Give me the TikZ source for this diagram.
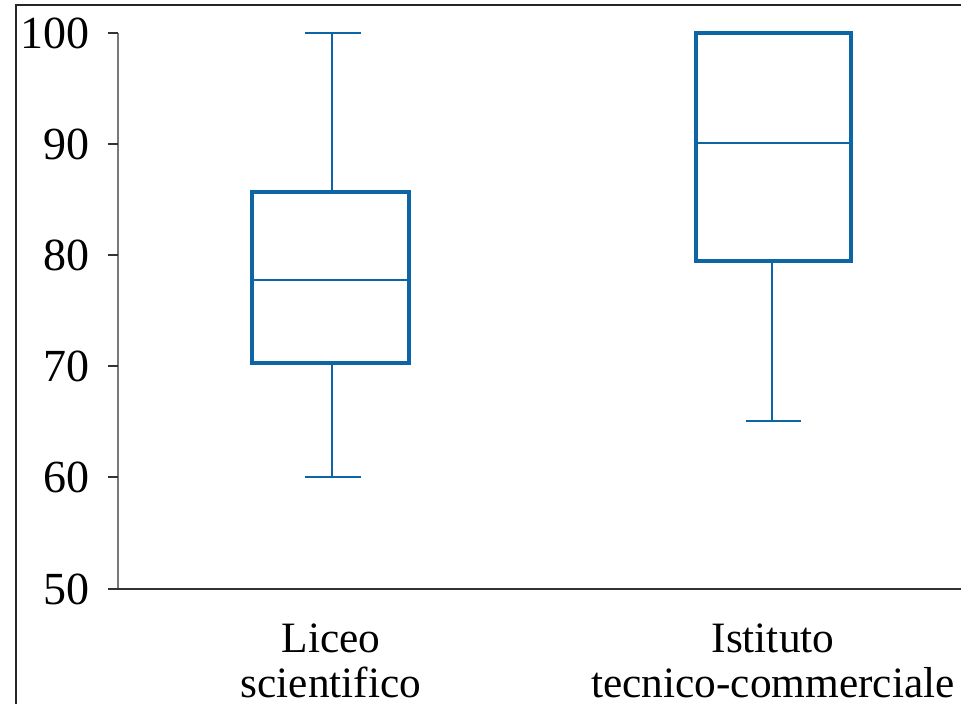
\documentclass[tikz,border=0pt]{standalone}
\usepackage{fontspec}
\setmainfont{Liberation Serif}
\definecolor{boxblue}{RGB}{14,101,166}
\definecolor{axisgray}{RGB}{120,120,120}
\begin{document}
\begin{tikzpicture}[x=0.75pt,y=-0.75pt]
  \tikzset{ticklabel/.style={anchor=east, inner sep=0pt, font=\fontsize{34.5}{40}\selectfont},
           catlabel/.style={align=center, inner sep=0pt, font=\fontsize{32.5}{33.5}\selectfont},
           boxline/.style={draw=boxblue, line width=2.4pt},
           whisker/.style={draw=boxblue, line width=2pt}}
  \useasboundingbox (0,0) rectangle (961,704);
  % frame
  \draw[line width=2pt, black!85] (16,704) -- (16,5) -- (961,5);
  % axes
  \coordinate (o) at (118,589);
  \coordinate (top) at (118,33);
  \coordinate (xend) at (961,589);
  \draw[axisgray, line width=1.3pt] (o) -- (top);
  \draw[black!80, line width=1.3pt] (108,589) -- (xend);
  \foreach \v/\y in {100/33,90/144,80/255,70/366,60/477,50/589}{
    \coordinate (t\v) at (118,\y);
    \draw[black!80, line width=1.3pt] (t\v) -- ++(-10,0);
    \node[ticklabel] (l\v) at (90,\y) {\v};
  }
  % Liceo scientifico
  \coordinate (ls_max) at (332,33);
  \coordinate (ls_min) at (332,477);
  \node[boxline, rectangle, minimum width=157*0.75pt, minimum height=171*0.75pt, inner sep=0pt] (ls_box) at (330.5,277.5) {};
  \draw[boxblue, line width=2.2pt] (ls_box.west |- 0,280) -- (ls_box.east |- 0,280);
  \draw[whisker] (ls_box.north -| ls_max) -- (ls_max);
  \draw[whisker] (ls_box.south -| ls_min) -- (ls_min);
  \draw[whisker, line width=2.2pt] ([xshift=-27*0.75pt]ls_max) -- ([xshift=29*0.75pt]ls_max);
  \draw[whisker, line width=2.2pt] ([xshift=-27*0.75pt]ls_min) -- ([xshift=29*0.75pt]ls_min);
  \node[catlabel] (ls_lab) at (331,661) {Liceo\\scientifico};
  % Istituto tecnico-commerciale
  \coordinate (it_min) at (772,421);
  \node[boxline, line width=3pt, rectangle, minimum width=155*0.75pt, minimum height=228*0.75pt, inner sep=0pt] (it_box) at (773.5,147) {};
  \draw[boxblue, line width=2.2pt] (it_box.west |- 0,143) -- (it_box.east |- 0,143);
  \draw[whisker] (it_box.south -| it_min) -- (it_min);
  \draw[whisker, line width=2.2pt] ([xshift=-26*0.75pt]it_min) -- ([xshift=29*0.75pt]it_min);
  \node[catlabel] (it_lab) at (773,661) {Istituto\\tecnico-commerciale};
\end{tikzpicture}
\end{document}
